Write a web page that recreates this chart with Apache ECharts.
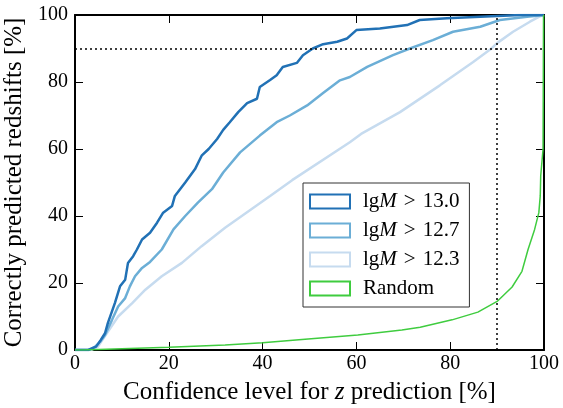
<!DOCTYPE html>
<html>
<head>
<meta charset="utf-8">
<script src="https://cdn.jsdelivr.net/npm/echarts@6/dist/echarts.min.js"></script>
<style>
  html, body { margin: 0; padding: 0; background: #fff; }
  #main { width: 563px; height: 408px; }
</style>
</head>
<body>
<div id="main"></div>
<script>
// 刻度
var xTicks = [0, 20, 40, 60, 80, 100];
var yTicks = [0, 20, 40, 60, 80, 100];

// lgM > 13.0
var x130 = [0, 2.8, 4.5, 5.5, 6.4, 7, 8.5, 9.6, 10.7, 11.3, 12.4, 13.2, 14.3, 16, 17.5, 18.8, 20.7, 21.3, 23.5, 25.6, 27, 28.5, 30.3, 31.6, 33, 34.8, 36.7, 38.8, 39.4, 41.6, 43, 44.3, 47.3, 48.6, 50.7, 52.9, 55.9, 58, 60, 65, 70.8, 73.5, 79.3, 86.4, 95, 100];
var y130 = [0, 0, 1, 3, 5, 8, 14, 19, 21, 26, 28, 30, 33, 35, 38, 41, 43, 46, 50, 54, 58, 60, 63, 65.7, 68, 71, 73.7, 75, 78.5, 80.6, 82, 84.5, 85.7, 88, 90, 91.3, 92, 93, 95.5, 96, 97, 98.5, 99, 99.5, 100, 100];

// lgM > 12.7
var x127 = [0, 3, 4.3, 5.4, 6.4, 7.9, 9.2, 10.7, 11.7, 12.8, 14.3, 16, 18.5, 21, 23.5, 26.2, 29.2, 31.6, 35.2, 39.4, 43, 45.8, 49.5, 52.9, 56.5, 58.6, 62.3, 67.8, 71.4, 76.3, 80.6, 86.4, 90.6, 96.4, 100];
var y127 = [0, 0, 1, 2.5, 4.5, 9, 13, 15.5, 19, 22, 24.5, 26.3, 30, 36, 40, 44, 48, 53, 59, 64, 68, 70, 73, 76.7, 80.5, 81.5, 84.5, 88, 90, 92.5, 95, 96.5, 98.5, 99.5, 100];

// lgM > 12.3
var x123 = [0, 3.5, 4.9, 7, 9.2, 12.2, 15, 18.5, 22.8, 27, 32, 41.6, 46.3, 58.6, 61, 69.3, 77.8, 84.9, 88.8, 90, 93.4, 97, 99, 100];
var y123 = [0, 0, 1, 5.4, 10, 14, 18, 22, 26, 31, 36.5, 46, 50.7, 62, 64.5, 71, 79, 86, 90, 91.6, 95, 98, 99.5, 100];

// Random
var xRnd = [0, 1.7, 10, 20, 32, 40, 49.7, 60.3, 69.7, 73.6, 80.4, 85.9, 90, 93.2, 95.3, 96.6, 98, 98.9, 99.2, 99.3, 99.8, 99.9, 100];
var yRnd = [0, 0, 0.4, 0.8, 1.5, 2.2, 3.3, 4.5, 6, 6.8, 9, 11.3, 14.5, 18.8, 23.5, 30, 36, 41, 46, 52, 60, 100, 100];

var seriesNames = ['lgM>13.0', 'lgM>12.7', 'lgM>12.3', 'Random'];
var seriesColors = ['#2171b5', '#6baed6', '#c6dbef', '#3fcc3f'];

function pairs(xs, ys) {
	return xs.map(function (x, i) { return [x, ys[i]]; });
}

var serif = '"Liberation Serif", "DejaVu Serif", serif';

var myChart = echarts.init(document.getElementById('main'));

function axisCommon(showLabel, margin) {
	return {
		type: 'value',
		min: 0,
		max: 100,
		interval: 20,
		axisLine: { show: true, onZero: false, lineStyle: { color: '#000', width: 2 } },
		axisTick: { show: true, inside: true, length: 8, lineStyle: { color: '#000', width: 1 } },
		splitLine: { show: false },
		axisLabel: { show: showLabel, color: '#000', fontFamily: serif, fontSize: 20, margin: margin }
	};
}

var xBottom = axisCommon(true, 4);
xBottom.position = 'bottom';
xBottom.name = '{a|Confidence level for }{b|z}{a| prediction [%]}';
xBottom.nameLocation = 'middle';
xBottom.nameGap = 30;
xBottom.nameTextStyle = {
	rich: {
		a: { fontFamily: serif, fontSize: 25, color: '#000' },
		b: { fontFamily: serif, fontSize: 25, fontStyle: 'italic', color: '#000' }
	}
};
var xTop = axisCommon(false, 4);
xTop.position = 'top';

var yLeft = axisCommon(true, 7);
yLeft.position = 'left';
yLeft.name = 'Correctly predicted redshifts [%]';
yLeft.nameLocation = 'middle';
yLeft.nameGap = 42;
yLeft.nameTextStyle = { fontFamily: serif, fontSize: 25, color: '#000' };
var yRight = axisCommon(false, 7);
yRight.position = 'right';

var option = {
	animation: false,
	backgroundColor: '#fff',
	grid: { left: 75, right: 19, top: 15, bottom: 58, containLabel: false, outerBoundsMode: 'none' },
	legend: {
		left: 303,
		top: 183,
		orient: 'vertical',
		backgroundColor: '#fff',
		borderColor: '#333',
		borderWidth: 1,
		borderRadius: 0,
		padding: [8, 10, 8, 6],
		itemGap: 8,
		itemWidth: 40,
		itemHeight: 14,
		icon: 'rect',
		data: seriesNames.map(function (n, i) {
			return { name: n, itemStyle: { color: '#fff', borderColor: seriesColors[i], borderWidth: 2 } };
		}),
		formatter: function (name) {
			if (name === 'Random') return '{a|Random}';
			return '{a|lg}{b|M}{g|>}{a|' + name.split('>')[1] + '}';
		},
		textStyle: {
			padding: [0, 0, 0, 8],
			rich: {
				a: { fontFamily: serif, fontSize: 21, lineHeight: 20, color: '#000' },
				b: { fontFamily: serif, fontSize: 21, lineHeight: 20, fontStyle: 'italic', color: '#000' },
				g: { fontFamily: serif, fontSize: 21, lineHeight: 20, color: '#000', padding: [0, 7, 0, 7] }
			}
		}
	},
	xAxis: [xBottom, xTop],
	yAxis: [yLeft, yRight],
	series: [
		{
			name: seriesNames[2], type: 'line', showSymbol: false,
			data: pairs(x123, y123),
			lineStyle: { color: seriesColors[2], width: 2.5 }, itemStyle: { color: seriesColors[2] }
		},
		{
			name: seriesNames[1], type: 'line', showSymbol: false,
			data: pairs(x127, y127),
			lineStyle: { color: seriesColors[1], width: 2.5 }, itemStyle: { color: seriesColors[1] }
		},
		{
			name: seriesNames[0], type: 'line', showSymbol: false,
			data: pairs(x130, y130),
			lineStyle: { color: seriesColors[0], width: 2.5 }, itemStyle: { color: seriesColors[0] }
		},
		{
			name: seriesNames[3], type: 'line', showSymbol: false,
			data: pairs(xRnd, yRnd),
			lineStyle: { color: seriesColors[3], width: 1.5 }, itemStyle: { color: seriesColors[3] },
			markLine: {
				silent: true,
				symbol: 'none',
				label: { show: false },
				lineStyle: { color: '#000', type: [2, 3], width: 1.5 },
				data: [
					[{ coord: [0, 90] }, { coord: [100, 90] }],
					[{ coord: [90, 0] }, { coord: [90, 100] }]
				]
			}
		}
	]
};

myChart.setOption(option);
</script>
</body>
</html>
